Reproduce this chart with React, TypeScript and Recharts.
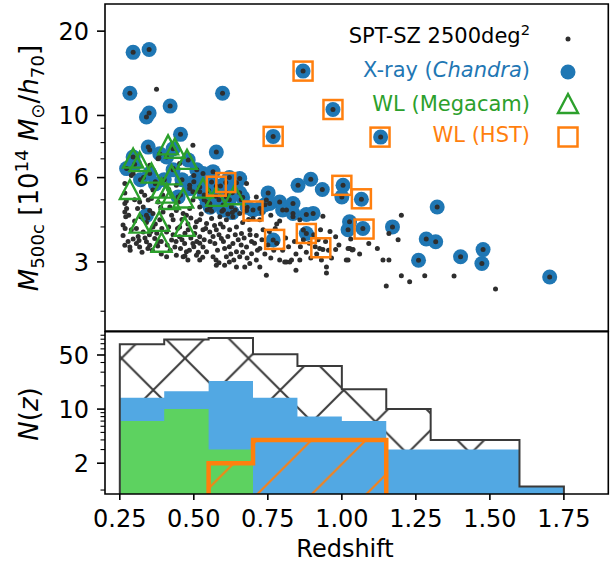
import React from 'react';
import {
  ScatterChart, ComposedChart, Scatter, Area, XAxis, YAxis, Legend, ReferenceArea, Label,
} from 'recharts';

const FONT = '"DejaVu Sans", sans-serif';

// SPT-SZ clusters with no X-ray follow-up: [redshift, M500c / 1e14]
const SPT_ONLY: [number, number][] = [
  [0.374, 12.4], [0.351, 6.64], [0.379, 7.0], [0.295, 6.2], [0.267, 5.71], [0.273, 4.65], [0.267, 4.52],
  [0.261, 4.06], [0.317, 4.91], [0.329, 4.71], [0.351, 4.58], [0.357, 5.05], [0.379, 4.91], [0.267, 3.44],
  [0.284, 3.39], [0.306, 3.49], [0.317, 3.39], [0.34, 3.54], [0.351, 3.44], [0.368, 3.64], [0.289, 3.91],
  [0.306, 3.95], [0.329, 3.84], [0.362, 4.0], [0.385, 4.24], [0.362, 4.47], [0.396, 4.52], [0.351, 7.53],
  [0.382, 7.07], [0.289, 6.11], [0.334, 5.19], [0.323, 5.34], [0.362, 5.42], [0.267, 4.85], [0.346, 4.99],
  [0.267, 5.29], [0.272, 4.95], [0.27, 4.35], [0.261, 3.73], [0.278, 3.55], [0.295, 3.62], [0.312, 3.7],
  [0.335, 3.65], [0.345, 3.35], [0.36, 3.3], [0.378, 3.42], [0.39, 3.55], [0.3, 4.2], [0.32, 4.35],
  [0.34, 4.15], [0.355, 3.85], [0.375, 3.8], [0.392, 3.95], [0.28, 4.4], [0.31, 4.65], [0.345, 4.3],
  [0.37, 4.1], [0.388, 4.7], [0.3, 5.0], [0.33, 6.0], [0.37, 5.8], [0.395, 5.2], [0.285, 3.3],
  [0.325, 3.25], [0.39, 3.2], [0.268, 3.95], [0.315, 3.58], [0.35, 3.75], [0.38, 3.55],
  [0.497, 7.82], [0.452, 6.74], [0.419, 4.71], [0.441, 4.58], [0.464, 4.47], [0.509, 4.17], [0.52, 4.24],
  [0.543, 4.11], [0.408, 3.84], [0.425, 3.59], [0.436, 3.39], [0.452, 3.69], [0.469, 3.49], [0.475, 3.26],
  [0.497, 3.49], [0.52, 3.69], [0.531, 3.39], [0.543, 3.26], [0.43, 4.24], [0.452, 4.0], [0.481, 3.91],
  [0.503, 3.79], [0.531, 3.91], [0.486, 4.65], [0.497, 4.99], [0.52, 4.71], [0.52, 5.34], [0.441, 3.17],
  [0.464, 3.13], [0.509, 3.17], [0.52, 3.05], [0.408, 3.13], [0.43, 6.46], [0.486, 5.63], [0.447, 4.91],
  [0.497, 5.34], [0.441, 5.63], [0.41, 3.45], [0.42, 3.3], [0.415, 4.0], [0.43, 3.75], [0.445, 3.95],
  [0.455, 3.35], [0.46, 3.6], [0.47, 3.8], [0.48, 4.1], [0.485, 3.3], [0.49, 3.65], [0.5, 3.4],
  [0.505, 4.0], [0.51, 3.55], [0.515, 3.25], [0.525, 4.45], [0.535, 3.6], [0.54, 3.95], [0.545, 4.6],
  [0.425, 4.4], [0.46, 4.25], [0.475, 4.4], [0.49, 4.3], [0.53, 3.12], [0.48, 3.05], [0.455, 5.2],
  [0.415, 5.45], [0.5, 6.1], [0.535, 5.0], [0.44, 3.55], [0.47, 3.15], [0.52, 3.5],
  [0.56, 4.29], [0.588, 4.35], [0.61, 4.24], [0.632, 4.35], [0.655, 4.47], [0.678, 4.58], [0.678, 5.71],
  [0.565, 3.13], [0.571, 3.49], [0.593, 3.64], [0.604, 3.35], [0.61, 3.13], [0.632, 3.49], [0.644, 3.26],
  [0.655, 3.13], [0.678, 3.39], [0.695, 3.21], [0.554, 3.84], [0.576, 3.91], [0.599, 4.0], [0.621, 3.91],
  [0.644, 4.0], [0.661, 3.79], [0.689, 3.91], [0.554, 4.85], [0.599, 4.79], [0.627, 4.71], [0.61, 5.12],
  [0.604, 2.92], [0.576, 2.92], [0.644, 2.88], [0.689, 2.96], [0.672, 2.88], [0.555, 3.55], [0.565, 3.7],
  [0.58, 3.3], [0.585, 3.75], [0.59, 4.1], [0.6, 3.55], [0.615, 3.7], [0.62, 3.4], [0.625, 3.2],
  [0.635, 3.05], [0.64, 3.75], [0.65, 3.6], [0.66, 3.45], [0.665, 4.15], [0.67, 3.65], [0.68, 3.1],
  [0.685, 4.25], [0.695, 3.55], [0.57, 4.05], [0.595, 4.55], [0.615, 4.45], [0.64, 4.6], [0.66, 5.0],
  [0.575, 3.05], [0.62, 3.0], [0.665, 3.25], [0.69, 3.75], [0.56, 4.55], [0.63, 5.3], [0.585, 2.98],
  [0.7, 4.29], [0.723, 4.24], [0.711, 3.05], [0.723, 3.35], [0.745, 2.69], [0.79, 3.05], [0.813, 3.0],
  [0.83, 3.05], [0.711, 3.73], [0.734, 3.91], [0.711, 5.12], [0.745, 4.99], [0.813, 4.6], [0.835, 4.35],
  [0.723, 2.88], [0.807, 3.0], [0.824, 3.0], [0.705, 3.5], [0.715, 3.3], [0.73, 3.6], [0.74, 3.2],
  [0.75, 3.45], [0.755, 3.85], [0.76, 3.1], [0.77, 3.3], [0.775, 3.95], [0.78, 3.5], [0.79, 4.2],
  [0.8, 3.3], [0.81, 3.65], [0.82, 3.4], [0.84, 3.55], [0.845, 3.2], [0.76, 4.4], [0.78, 4.1],
  [0.73, 4.5], [0.845, 2.8],
  [0.858, 4.24], [0.858, 3.05], [0.928, 3.91], [0.936, 4.37], [0.925, 3.35], [0.936, 3.32], [0.931, 3.05],
  [0.948, 2.88], [0.948, 2.74], [0.979, 3.69], [0.979, 3.32], [0.86, 3.4], [0.87, 3.6], [0.88, 3.25],
  [0.89, 3.5], [0.895, 3.1], [0.905, 3.75], [0.91, 3.4], [0.915, 3.2], [0.92, 3.6], [0.945, 3.55],
  [0.955, 3.3], [0.96, 3.85], [0.965, 3.1], [0.99, 3.45], [0.87, 3.9],
  [1.015, 3.05], [1.021, 3.05], [1.027, 3.35], [1.038, 3.32], [1.03, 3.62], [1.021, 3.35], [1.035, 3.31],
  [1.091, 3.49], [1.139, 3.05], [1.15, 2.46], [1.06, 3.2], [1.12, 3.35],
  [1.159, 3.05], [1.201, 4.4], [1.159, 3.79], [1.19, 3.6], [1.201, 2.68], [1.229, 2.55], [1.28, 2.68],
  [1.379, 2.67], [1.519, 2.4],
];

// clusters with Chandra X-ray data
const XRAY: [number, number][] = [
  [0.295, 16.8], [0.349, 17.2], [0.284, 12.0], [0.597, 12.0], [0.42, 10.8], [0.349, 10.2], [0.34, 9.87],
  [0.455, 8.56], [0.768, 8.42], [0.869, 14.4], [0.97, 10.5], [1.131, 8.37], [0.576, 7.4],
  [0.295, 7.11], [0.273, 6.46], [0.346, 7.71], [0.408, 7.11], [0.481, 6.94], [0.531, 6.2], [0.56, 5.79],
  [0.351, 6.2], [0.447, 5.12], [0.486, 5.48], [0.34, 4.4], [0.385, 7.3], [0.43, 7.6], [0.3, 6.7],
  [0.32, 5.9], [0.37, 5.7], [0.4, 5.9], [0.43, 6.4], [0.5, 5.8], [0.52, 5.55], [0.55, 5.4], [0.59, 5.6],
  [0.61, 5.3], [0.62, 5.0], [0.585, 5.0], [0.555, 4.7], [0.6, 4.6], [0.63, 4.5], [0.655, 5.95],
  [0.644, 5.75], [0.655, 5.3], [0.68, 4.7], [0.7, 4.6], [0.723, 4.65], [0.751, 5.29], [0.79, 4.91],
  [0.835, 4.85], [0.852, 5.63], [0.895, 5.92], [0.934, 5.44], [1.004, 5.63], [1.0, 5.12], [1.066, 5.02],
  [0.835, 4.47], [0.88, 4.43], [0.903, 4.47], [0.768, 3.59], [0.88, 3.79], [1.026, 4.17], [1.021, 3.91],
  [1.071, 3.95], [1.171, 4.0], [1.322, 4.71], [1.285, 3.62], [1.317, 3.54], [1.259, 3.04], [1.401, 3.13],
  [1.477, 3.32], [1.473, 2.96], [1.702, 2.65], [0.8, 4.6], [0.74, 4.8], [0.545, 4.9], [0.576, 5.59],
  [0.608, 5.76], [0.46, 5.9], [0.51, 6.4], [0.535, 5.2], [0.565, 6.3], [0.62, 6.0], [0.665, 5.1],
  [0.575, 5.15], [0.756, 4.85],
];

// weak lensing, Megacam
const MEGACAM: [number, number][] = [
  [0.295, 7.01], [0.317, 6.82], [0.413, 7.82], [0.436, 7.61], [0.477, 6.94], [0.357, 6.2], [0.425, 6.11],
  [0.284, 5.42], [0.391, 5.48], [0.408, 5.26], [0.419, 4.99], [0.464, 5.05], [0.531, 5.48], [0.576, 5.12],
  [0.638, 5.19], [0.317, 4.11], [0.383, 4.17], [0.469, 4.0], [0.391, 3.51],
];

// weak lensing, HST
const HST: [number, number][] = [
  [0.869, 14.4], [0.97, 10.5], [1.129, 8.37], [0.768, 8.42], [0.576, 5.59], [0.608, 5.76], [0.7, 4.56],
  [0.773, 3.61], [0.88, 3.79], [0.929, 3.37], [1.0, 5.63], [1.066, 5.04], [1.075, 3.93],
];

// histograms N(z)
const Z_EDGES = [0.25, 0.4, 0.55, 0.7, 0.85, 1.0, 1.15, 1.3, 1.45, 1.6, 1.75];
const N_SPT = [69, 79, 83, 51, 36, 18, 10, 4, 4, 1];
const N_XRAY = [14, 17, 23, 14, 8, 7, 3, 3, 3, 1];
const Z_EDGES_MEGACAM = [0.25, 0.4, 0.55, 0.7];
const N_MEGACAM = [7, 10, 3];
const Z_EDGES_HST = [0.55, 0.7, 0.85, 1.0, 1.15];
const N_HST = [2, 4, 4, 4];

const Z_DOMAIN = [0.2, 1.9];
const M_DOMAIN = [1.7, 25];
const N_DOMAIN = [0.8, 100];
const Z_TICKS = [0.25, 0.5, 0.75, 1.0, 1.25, 1.5, 1.75];
const M_MAJOR = [3, 6, 10, 20];
const M_MINOR = [2, 4, 5, 7, 8, 9];
const N_MAJOR = [2, 10, 50];
const N_MINOR = [0.9, 3, 4, 5, 6, 7, 8, 9, 20, 30, 40, 60, 70, 80, 90];

const TICK_FS = 24;
const YLABEL_FS = 26;
const XLABEL_FS = 24;
const LEGEND_FS = 21;

const toPts = (arr: [number, number][]) => arr.map(([z, m]) => ({ z, m }));

const stepPoints = (edges: number[], counts: number[]) => {
  const base = N_DOMAIN[0];
  const pts = [{ z: edges[0], n: base }];
  counts.forEach((c, i) => pts.push({ z: edges[i], n: c }));
  pts.push({ z: edges[edges.length - 1], n: base });
  return pts;
};

const Dot = ({ cx, cy }: any) => <circle cx={cx} cy={cy} r={2.5} fill="#2e2e2e" />;
const BigDot = ({ cx, cy }: any) => <circle cx={cx} cy={cy} r={7.5} fill="#1f77b4" />;
const Tri = ({ cx, cy }: any) => (
  <path d={`M${cx},${cy - 10}L${cx - 10},${cy + 9}L${cx + 10},${cy + 9}Z`} fill="none" stroke="#2ca02c" strokeWidth={2.4} />
);
const Sq = ({ cx, cy }: any) => (
  <rect x={cx - 9.5} y={cy - 9.5} width={19} height={19} fill="none" stroke="#ff7f0e" strokeWidth={2.5} />
);

const makeLogTick = (majors: number[]) => ({ x, y, payload }: any) => {
  const major = majors.includes(payload.value);
  return (
    <g>
      <line x1={x - (major ? 8 : 4.5)} x2={x} y1={y} y2={y} stroke="#000" strokeWidth={major ? 1.6 : 1.1} />
      {major && (
        <text x={x - 16} y={y} dy="0.36em" textAnchor="end" fontSize={TICK_FS} fontFamily={FONT} fill="#000">
          {payload.value}
        </text>
      )}
    </g>
  );
};

const LegendBox = () => (
  <svg width={280} height={150} style={{ display: 'block', fontFamily: FONT }}>
    <text x={200} y={28} textAnchor="end" fontSize={LEGEND_FS} fill="#000">
      SPT-SZ 2500deg<tspan dy={-8} fontSize={LEGEND_FS * 0.7}>2</tspan>
    </text>
    <circle cx={238} cy={24} r={2.5} fill="#2e2e2e" />
    <text x={200} y={62} textAnchor="end" fontSize={LEGEND_FS} fill="#1f77b4">
      X-ray (<tspan fontStyle="italic">Chandra</tspan>)
    </text>
    <circle cx={238} cy={57} r={7.5} fill="#1f77b4" />
    <text x={200} y={96} textAnchor="end" fontSize={LEGEND_FS} fill="#2ca02c">WL (Megacam)</text>
    <path d="M238,79L228,98L248,98Z" fill="none" stroke="#2ca02c" strokeWidth={2.4} />
    <text x={200} y={127} textAnchor="end" fontSize={LEGEND_FS} fill="#ff7f0e">WL (HST)</text>
    <rect x={228.5} y={112.5} width={19} height={19} fill="none" stroke="#ff7f0e" strokeWidth={2.5} />
  </svg>
);

export default function App() {
  const spt = toPts([...SPT_ONLY, ...XRAY]);
  return (
    <div style={{ position: 'absolute', left: 0, top: 0, width: 611, height: 571, background: '#fff', fontFamily: FONT }}>
      <div style={{ position: 'absolute', left: 0, top: 0 }}>
        <ScatterChart width={611} height={340} margin={{ top: 4, right: 2.7, bottom: 9, left: 0 }}>
          <XAxis
            type="number" dataKey="z" domain={Z_DOMAIN} allowDataOverflow ticks={Z_TICKS}
            mirror height={0} tickSize={9} axisLine={false}
            tickLine={{ stroke: '#000', strokeWidth: 1.6 }} tickFormatter={() => ''}
          />
          <YAxis
            type="number" dataKey="m" scale="log" domain={M_DOMAIN} allowDataOverflow
            ticks={[...M_MINOR, ...M_MAJOR].sort((a, b) => a - b)} interval={0}
            width={105} tickSize={0} tickMargin={0} axisLine={false} tickLine={false}
            tick={makeLogTick(M_MAJOR)}
          >
            <Label
              content={() => (
                <text transform="translate(38,168) rotate(-90)" textAnchor="middle" fontSize={YLABEL_FS} fontFamily={FONT} fill="#000">
                  <tspan fontStyle="italic">M</tspan>
                  <tspan dy={6} fontSize={YLABEL_FS * 0.7}>500c</tspan>
                  <tspan dy={-6}> [10</tspan>
                  <tspan dy={-10} fontSize={YLABEL_FS * 0.7}>14</tspan>
                  <tspan dy={10} fontStyle="italic"> M</tspan>
                  <tspan dy={6} fontSize={YLABEL_FS * 0.7}>⊙</tspan>
                  <tspan dy={-6}>/</tspan>
                  <tspan fontStyle="italic">h</tspan>
                  <tspan dy={6} fontSize={YLABEL_FS * 0.7}>70</tspan>
                  <tspan dy={-6}>]</tspan>
                </text>
              )}
            />
          </YAxis>
          <ReferenceArea x1={Z_DOMAIN[0]} x2={Z_DOMAIN[1]} y1={M_DOMAIN[0]} y2={M_DOMAIN[1]} fill="none" stroke="#000" strokeWidth={1.6} fillOpacity={0} />
          <Scatter data={toPts(XRAY)} shape={BigDot} isAnimationActive={false} />
          <Scatter data={spt} shape={Dot} isAnimationActive={false} />
          <Scatter data={toPts(MEGACAM)} shape={Tri} isAnimationActive={false} />
          <Scatter data={toPts(HST)} shape={Sq} isAnimationActive={false} />
          <Legend
            layout="horizontal" verticalAlign="middle" align="center"
            wrapperStyle={{ position: 'absolute', left: 330, top: 15, width: 280, height: 150 }}
            content={() => <LegendBox />}
          />
        </ScatterChart>
      </div>
      <div style={{ position: 'absolute', left: 0, top: 320 }}>
        <ComposedChart width={611} height={251} margin={{ top: 11.7, right: 2.7, bottom: 0, left: 0 }}>
          <defs>
            <pattern id="hatchX" patternUnits="userSpaceOnUse" width={63.5} height={63.5} patternTransform="translate(185,38.3)">
              <path d="M0,0L63.5,63.5M0,63.5L63.5,0" stroke="#3a3a3a" strokeWidth={2} />
            </pattern>
            <pattern id="hatchSlash" patternUnits="userSpaceOnUse" width={54.5} height={54.5} patternTransform="translate(50,0)">
              <path d="M0,54.5L54.5,0M-10,10L10,-10M44.5,64.5L64.5,44.5" stroke="#ff7f0e" strokeWidth={2} />
            </pattern>
          </defs>
          <XAxis
            type="number" dataKey="z" domain={Z_DOMAIN} allowDataOverflow ticks={Z_TICKS}
            height={77} tickSize={6} tickMargin={10} axisLine={false}
            tickLine={{ stroke: '#000', strokeWidth: 1.6 }}
            tick={{ fontSize: TICK_FS, fill: '#000', fontFamily: FONT }}
            tickFormatter={(v: number) => v.toFixed(2)}
          >
            <Label
              content={() => (
                <text x={345} y={237} textAnchor="middle" fontSize={XLABEL_FS} fontFamily={FONT} fill="#000">Redshift</text>
              )}
            />
          </XAxis>
          <YAxis
            type="number" dataKey="n" scale="log" domain={N_DOMAIN} allowDataOverflow
            ticks={[...N_MINOR, ...N_MAJOR].sort((a, b) => a - b)} interval={0}
            width={105} tickSize={0} tickMargin={0} axisLine={false} tickLine={false}
            tick={makeLogTick(N_MAJOR)}
          >
            <Label
              content={() => (
                <text transform="translate(38,94) rotate(-90)" textAnchor="middle" fontSize={YLABEL_FS} fontFamily={FONT} fill="#000">
                  <tspan fontStyle="italic">N</tspan>(<tspan fontStyle="italic">z</tspan>)
                </text>
              )}
            />
          </YAxis>
          <Area data={stepPoints(Z_EDGES, N_SPT)} dataKey="n" type="stepAfter" baseValue={N_DOMAIN[0]} fill="url(#hatchX)" fillOpacity={1} stroke="none" isAnimationActive={false} />
          <Area data={stepPoints(Z_EDGES, N_XRAY)} dataKey="n" type="stepAfter" baseValue={N_DOMAIN[0]} fill="#52a8e3" fillOpacity={1} stroke="none" isAnimationActive={false} />
          <Area data={stepPoints(Z_EDGES_MEGACAM, N_MEGACAM)} dataKey="n" type="stepAfter" baseValue={N_DOMAIN[0]} fill="#5dd260" fillOpacity={1} stroke="none" isAnimationActive={false} />
          <Area data={stepPoints(Z_EDGES_HST, N_HST)} dataKey="n" type="stepAfter" baseValue={N_DOMAIN[0]} fill="url(#hatchSlash)" fillOpacity={1} stroke="#ff7f0e" strokeWidth={4.5} isAnimationActive={false} />
          <Area data={stepPoints(Z_EDGES, N_SPT)} dataKey="n" type="stepAfter" baseValue={N_DOMAIN[0]} fill="none" stroke="#3a3a3a" strokeWidth={2} isAnimationActive={false} />
          <ReferenceArea x1={Z_DOMAIN[0]} x2={Z_DOMAIN[1]} y1={N_DOMAIN[0]} y2={N_DOMAIN[1]} fill="none" stroke="#000" strokeWidth={1.6} fillOpacity={0} />
        </ComposedChart>
      </div>
    </div>
  );
}
